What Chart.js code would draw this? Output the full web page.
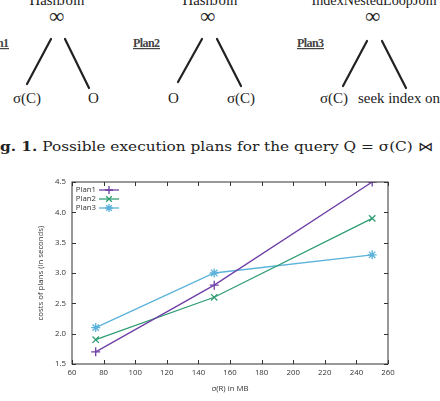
<!DOCTYPE html>
<html>
<head>
<meta charset="utf-8">
<script src="https://cdn.jsdelivr.net/npm/chart.js@4.4.0/dist/chart.umd.min.js"></script>
<style>
  html, body { margin: 0; padding: 0; background: #fff; }
  body { width: 440px; height: 401px; position: relative; overflow: hidden; }
  #top { position: absolute; left: 0; top: 0; }
  #chartBox { position: absolute; left: 0; top: 170px; width: 440px; height: 231px; }
</style>
</head>
<body>
<svg id="top" width="440" height="170" xmlns="http://www.w3.org/2000/svg">
  <g font-family="Liberation Serif, serif" fill="#222" font-size="15">
    <text x="57" y="5" text-anchor="middle" textLength="55" lengthAdjust="spacingAndGlyphs">HashJoin</text>
    <text x="210" y="5" text-anchor="middle" textLength="55" lengthAdjust="spacingAndGlyphs">HashJoin</text>
    <text x="374" y="5" text-anchor="middle" textLength="125" lengthAdjust="spacingAndGlyphs">IndexNestedLoopJoin</text>
    <text x="57" y="23" text-anchor="middle" font-size="21" font-weight="bold">∞</text>
    <text x="208" y="23" text-anchor="middle" font-size="21" font-weight="bold">∞</text>
    <text x="373" y="23" text-anchor="middle" font-size="21" font-weight="bold">∞</text>
    <text x="13" y="103">σ(C)</text>
    <text x="88" y="103">O</text>
    <text x="168" y="103">O</text>
    <text x="227" y="103">σ(C)</text>
    <text x="320" y="103">σ(C)</text>
    <text x="358" y="103" textLength="82" lengthAdjust="spacingAndGlyphs">seek index on</text>
  </g>
  <g font-family="Liberation Serif, serif" fill="#444" font-size="12" font-weight="bold" text-decoration="underline">
    <text x="-18" y="47" textLength="27">Plan1</text>
    <text x="133" y="47" textLength="27">Plan2</text>
    <text x="297" y="47" textLength="27">Plan3</text>
  </g>
  <g stroke="#222" stroke-width="2.2" stroke-linecap="round">
    <line x1="51" y1="39" x2="27" y2="84"/>
    <line x1="65" y1="39" x2="89" y2="88"/>
    <line x1="202" y1="39" x2="178" y2="82"/>
    <line x1="217" y1="39" x2="241" y2="86"/>
    <line x1="367" y1="41" x2="343" y2="86"/>
    <line x1="382" y1="41" x2="406" y2="88"/>
  </g>
  <text y="151" font-family="DejaVu Serif, serif" font-size="13" fill="#222" textLength="433" lengthAdjust="spacingAndGlyphs"><tspan x="0" font-weight="bold">g. 1.</tspan> Possible execution plans for the query Q = σ(C) ⋈</text>
</svg>
<div id="chartBox"><canvas id="plans"></canvas></div>
<script>
// Costs of execution plans vs. size of σ(R)

const sizes = [75, 150, 250];
const plan1Costs = [1.7, 2.8, 4.5];
const plan2Costs = [1.9, 2.6, 3.9];
const plan3Costs = [2.1, 3.0, 3.3];
const xTicks = [60, 80, 100, 120, 140, 160, 180, 200, 220, 240, 260];
const yTicks = [1.5, 2, 2.5, 3, 3.5, 4, 4.5];

const seriesNames = ['Plan1', 'Plan2', 'Plan3'];
const seriesColors = ['#6e3ea6', '#2f9d72', '#5bb2da'];
const seriesMarkers = ['cross', 'crossRot', 'star'];

function toPoints(values) {
    return sizes.map((x, i) => ({ x: x, y: values[i] }));
}

const textColor = '#333';
const tickFont = { family: 'Open Sans, DejaVu Sans, sans-serif', size: 7.8 };

// gnuplot style frame: box around the plot and inward ticks on all sides
const framePlugin = {
    id: 'frame',
    afterDatasetsDraw(chart) {
        const { ctx, chartArea: a, scales } = chart;
        ctx.save();
        ctx.strokeStyle = '#333';
        ctx.lineWidth = 1;
        ctx.strokeRect(a.left, a.top, a.right - a.left, a.bottom - a.top);
        const len = 4;
        ctx.beginPath();
        xTicks.forEach(v => {
            const px = Math.round(scales.x.getPixelForValue(v)) + 0.5;
            ctx.moveTo(px, a.bottom); ctx.lineTo(px, a.bottom - len);
            ctx.moveTo(px, a.top); ctx.lineTo(px, a.top + len);
        });
        yTicks.forEach(v => {
            const py = Math.round(scales.y.getPixelForValue(v)) + 0.5;
            ctx.moveTo(a.left, py); ctx.lineTo(a.left + len, py);
            ctx.moveTo(a.right, py); ctx.lineTo(a.right - len, py);
        });
        ctx.stroke();

        // key in the top left corner
        ctx.font = '7.8px "Open Sans", "DejaVu Sans", sans-serif';
        ctx.textAlign = 'right';
        ctx.textBaseline = 'middle';
        chart.data.datasets.forEach((ds, i) => {
            const y = a.top + 8 + i * 9;
            ctx.fillStyle = textColor;
            ctx.fillText(ds.label, a.left + 24, y);
            ctx.strokeStyle = ds.borderColor;
            ctx.lineWidth = 1.3;
            ctx.beginPath();
            ctx.moveTo(a.left + 27, y);
            ctx.lineTo(a.left + 47, y);
            ctx.stroke();
            Chart.helpers.drawPoint(ctx, {
                pointStyle: ds.pointStyle,
                radius: 4,
                borderWidth: 1.3,
                rotation: 0
            }, a.left + 37, y);
        });
        ctx.restore();
    }
};

new Chart(document.getElementById('plans'), {
    type: 'line',
    data: {
        datasets: seriesNames.map((name, i) => ({
            label: name,
            data: toPoints([plan1Costs, plan2Costs, plan3Costs][i]),
            borderColor: seriesColors[i],
            backgroundColor: seriesColors[i],
            pointStyle: seriesMarkers[i],
            pointRadius: 4.5,
            pointBorderWidth: 1.3,
            borderWidth: 1.3,
            tension: 0,
            fill: false
        }))
    },
    options: {
        responsive: true,
        maintainAspectRatio: false,
        animation: false,
        layout: { padding: { left: 0, right: 52, top: 12, bottom: 0 } },
        plugins: {
            legend: { display: false },
            tooltip: { enabled: false }
        },
        scales: {
            x: {
                type: 'linear',
                min: 60,
                max: 260,
                afterBuildTicks: scale => { scale.ticks = xTicks.map(v => ({ value: v })); },
                afterFit: scale => { scale.height = 37; },
                ticks: { color: textColor, font: tickFont, padding: 4, maxRotation: 0 },
                grid: { display: false, drawTicks: false },
                border: { display: false },
                title: {
                    display: true,
                    text: 'σ(R) in MB',
                    color: textColor,
                    font: tickFont,
                    padding: { top: 8, bottom: 8 }
                }
            },
            y: {
                type: 'linear',
                min: 1.5,
                max: 4.5,
                afterBuildTicks: scale => { scale.ticks = yTicks.map(v => ({ value: v })); },
                afterFit: scale => { scale.width = 72; },
                ticks: { color: textColor, font: tickFont, padding: 6 },
                grid: { display: false, drawTicks: false },
                border: { display: false },
                title: {
                    display: true,
                    text: 'costs of plans (in seconds)',
                    color: textColor,
                    font: tickFont,
                    padding: { top: 36, bottom: 36 }
                }
            }
        }
    },
    plugins: [framePlugin]
});
</script>
</body>
</html>
